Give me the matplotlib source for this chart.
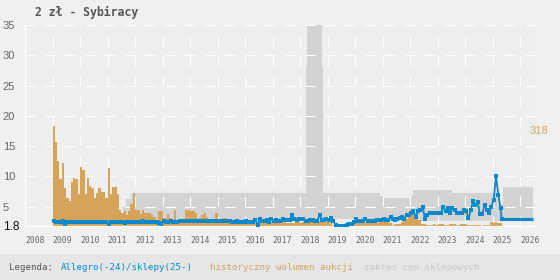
import numpy as np
import matplotlib.pyplot as plt
from matplotlib.patches import Rectangle

plt.rcParams['lines.scale_dashes'] = False

title = "2 zł - Sybiracy"
year_ticks = list(range(2008, 2027))
price_ticks = [1.8, 5, 10, 15, 20, 25, 30, 35]

# auction volume per month, Jan 2009 .. Apr 2025
volume = (
    [318, 266, 207, 150, 199, 119, 90, 80, 138, 153, 148, 100]    # 2009
    + [186, 176, 100, 153, 128, 119, 90, 103, 119, 109, 109, 90]  # 2010
    + [182, 100, 123, 123, 100, 52, 42, 48, 36, 48, 69, 105]      # 2011
    + [52, 52, 38, 52, 42, 40, 40, 34, 29, 19, 46, 46]            # 2012
    + [25, 25, 38, 25, 19, 50, 19, 19, 13, 13, 50, 50]            # 2013
    + [46, 46, 40, 19, 25, 34, 40, 29, 15, 15, 15, 40]            # 2014
    + [21, 21, 25, 25, 12, 12, 12, 12, 11, 10, 11, 12]            # 2015
    + [10, 12, 8, 12, 10, 14, 10, 8, 12, 13, 10, 12]              # 2016
    + [12, 10, 10, 8, 8, 12, 10, 8, 8, 10, 12, 14]                # 2017
    + [10, 12, 14, 17, 16, 19, 21, 17, 15, 17, 16, 14]            # 2018
    + [12, 8, 4, 0, 0, 0, 0, 6, 10, 10, 12, 10]                   # 2019
    + [12, 10, 14, 12, 10, 10, 12, 14, 12, 10, 16, 19]            # 2020
    + [15, 13, 12, 8, 4, 6, 6, 6, 12, 15, 22, 29]                 # 2021
    + [40, 46, 30, 19, 19, 6, 6, 4, 4, 4, 6, 4]                   # 2022
    + [6, 6, 7, 3, 3, 6, 6, 6, 3, 3, 7, 7]                        # 2023
    + [5, 4, 3, 3, 3, 3, 3, 0, 3, 3, 4, 12]                       # 2024
    + [9, 13, 10, 10]                                             # 2025
)

# Allegro price per month, Jan 2009 .. Apr 2025
allegro = (
    [2.6, 2.5, 2.4, 2.5, 2.6, 2.2, 2.5, 2.4, 2.4, 2.5, 2.5, 2.5]
    + [2.5, 2.5, 2.5, 2.5, 2.4, 2.4, 2.4, 2.4, 2.4, 2.4, 2.4, 2.4]
    + [2.2, 2.5, 2.5, 2.5, 2.5, 2.5, 2.4, 2.3, 2.5, 2.5, 2.5, 2.5]
    + [2.5, 2.5, 2.5, 2.6, 2.5, 2.5, 2.5, 2.5, 2.5, 2.5, 2.3, 2.2]
    + [2.6, 2.5, 2.5, 2.6, 2.5, 2.5, 2.5, 2.6, 2.6, 2.6, 2.7, 2.7]
    + [2.7, 2.6, 2.7, 2.6, 2.6, 2.7, 2.7, 2.6, 2.6, 2.6, 2.6, 2.7]
    + [2.6, 2.6, 2.6, 2.6, 2.7, 2.6, 2.5, 2.5, 2.7, 2.5, 2.5, 2.5]
    + [2.6, 2.4, 2.4, 2.4, 2.8, 2.0, 3.0, 2.6, 2.7, 2.8, 2.4, 2.9]
    + [2.7, 2.8, 2.6, 2.6, 2.9, 2.8, 2.8, 2.8, 3.6, 3.0, 2.8, 3.0]
    + [2.9, 2.9, 2.6, 2.6, 2.8, 2.8, 2.6, 2.6, 3.6, 2.8, 2.8, 3.0]
    + [2.8, 3.1, 2.6, 2.0, 1.85, 1.85, 1.85, 1.85, 2.0, 2.1, 2.2, 2.4]
    + [2.9, 2.6, 2.6, 2.6, 3.0, 2.7, 2.7, 2.7, 2.7, 2.8, 2.8, 2.8]
    + [3.0, 2.8, 2.8, 3.3, 3.0, 2.8, 3.0, 3.1, 3.3, 3.0, 3.6, 3.6]
    + [3.9, 4.2, 3.3, 4.3, 4.5, 4.9, 3.0, 3.6, 3.9, 3.9, 3.9, 3.9]
    + [3.9, 3.9, 5.0, 4.2, 4.8, 3.9, 4.8, 4.4, 3.9, 3.9, 3.9, 4.4]
    + [4.2, 3.1, 4.4, 5.9, 5.3, 5.8, 3.7, 3.7, 5.3, 4.4, 4.0, 5.0]
    + [6.1, 10.0, 7.0, 4.7]
)

# shop price (flat) after the Allegro series ends
shop_years = [2025.33, 2026.48]
shop_price = [2.95, 2.95]

# shop price range band (step)
band_years = [2011.58, 2011.66, 2011.86, 2018.22, 2018.26, 2018.80, 2018.84, 2019.0,
              2020.1, 2020.9, 2021.0, 2022.05, 2022.12, 2023.52, 2025.28, 2025.38, 2026.47]
band_lo = [2.6, 2.6, 2.6, 2.6, 2.6, 2.6, 2.6, 3.0,
           2.6, 2.6, 2.6, 2.6, 2.6, 2.6, 2.9, 2.9, 2.9]
band_hi = [5.0, 6.2, 7.2, 28.2, 40.0, 28.2, 7.2, 7.2,
           7.2, 6.8, 6.4, 7.0, 7.8, 7.2, 5.5, 8.2, 8.2]

BLUE = '#0a88cc'
ORANGE = '#d5a35a'
BAND = '#d3d3d3'
MONO = 'DejaVu Sans Mono'

months = 2009 + np.arange(len(volume)) / 12
vol_base = 1.8
vol_scale = (18.4 - vol_base) / max(volume)

fig = plt.figure(figsize=(5.6, 2.8), dpi=100, facecolor='#f0f0f0')
ax = fig.add_axes([25 / 560, 54 / 280, 511 / 560, 201 / 280])
ax.set_facecolor('#eeeeee')

ax.fill_between(band_years, band_lo, band_hi, step='post', color=BAND, lw=0, zorder=1)
ax.bar(months, np.array(volume) * vol_scale, bottom=vol_base, width=1 / 12,
       align='edge', color=ORANGE, lw=0, zorder=2)
ax.plot(list(months + 1 / 24) + shop_years[:1], allegro + shop_price[:1],
        color=BLUE, lw=1.3, marker='s', ms=2.8, mew=0, zorder=3)
ax.plot(shop_years, shop_price, color=BLUE, lw=2.3, solid_capstyle='butt', zorder=3)

ax.text(2026.36, vol_base + max(volume) * vol_scale, str(max(volume)), color=ORANGE,
        fontsize=8, family='Liberation Sans', ha='left', va='top', clip_on=False)

ax.set_xlim(2008, 2026.58)
ax.set_ylim(1.8, 35)
ax.set_axisbelow('line')
ax.grid(True, color='white', lw=0.8, linestyle=(0, (7.2, 7.2)))

ax.set_yticks(price_ticks)
ax.set_yticklabels(['1.8'] + [str(t) for t in price_ticks[1:]], family='Liberation Sans',
                   ha='left')
ax.tick_params(axis='y', length=0, pad=16, labelsize=8, labelcolor='#666666')
ax.get_yticklabels()[0].set_color('#111111')
ax.get_yticklabels()[0].set_fontsize(8.6)
ax.set_xticks(year_ticks)
ax.set_xticklabels([str(y) for y in year_ticks], ha='left', family=MONO)
ax.tick_params(axis='x', length=0, pad=7, labelsize=5.8, labelcolor='#666666')

for s in ['top', 'right']:
    ax.spines[s].set_visible(False)
for s in ['left', 'bottom']:
    ax.spines[s].set_color('white')
    ax.spines[s].set_linewidth(0.9)

fig.text(35 / 560, 1 - 12.5 / 280, title, family=MONO, fontsize=8.3, fontweight='bold',
         color='#555555', va='center')

# legend strip
fig.add_artist(Rectangle((0, 0), 1, 26 / 280, transform=fig.transFigure,
                         color='#e6e6e6', lw=0, zorder=0))
legend_items = [('Legenda:', '#555555', 9), ('Allegro(-24)/sklepy(25-)', BLUE, 61),
                ('historyczny wolumen aukcji', ORANGE, 210),
                ('zakres cen sklepowych', '#c8c8c8', 364)]
for txt, col, xp in legend_items:
    fig.text(xp / 560, 10 / 280, txt, family=MONO, fontsize=6.6, color=col, va='baseline')

fig.savefig('out.png', dpi=100, facecolor=fig.get_facecolor())
